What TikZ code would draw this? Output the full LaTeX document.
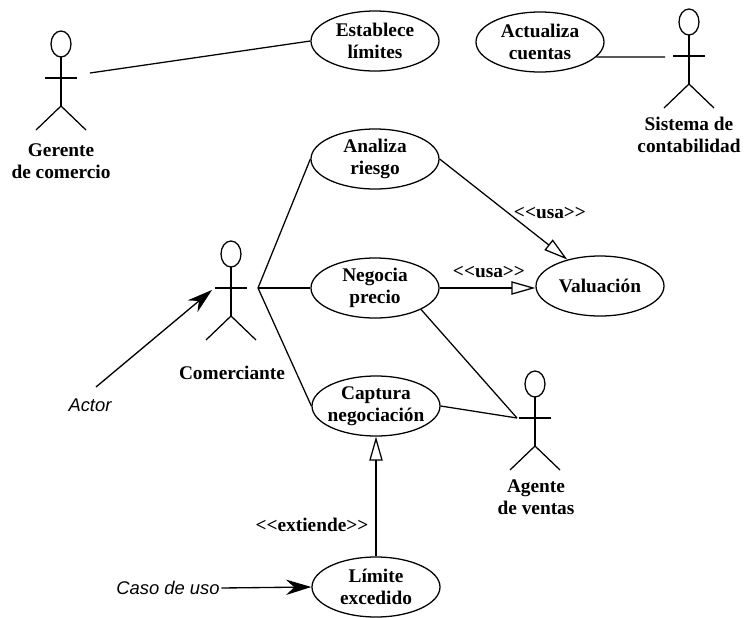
\documentclass[tikz,border=0pt]{standalone}
\usepackage{fontspec}
\setmainfont{Liberation Serif}
\newfontfamily\labelfont{Liberation Sans}
\usetikzlibrary{shapes.geometric,arrows.meta}
\tikzset{
  usecase/.style={draw,ellipse,inner sep=-3pt,minimum width=96pt,minimum height=45pt,align=center,font=\fontsize{14.5}{16.5}\selectfont\bfseries},
  rolename/.style={inner sep=0.75pt,align=center,font=\fontsize{14.5}{16.5}\selectfont\bfseries},
  stereotype/.style={inner sep=0.75pt,font=\fontsize{14.5}{16}\selectfont\bfseries},
  callout/.style={inner sep=0.75pt,font=\fontsize{13.8}{16}\selectfont\labelfont\itshape},
  usesarrow/.style={-{Triangle[open,length=18pt,width=10pt]}},
  calloutarrow/.style={-{Stealth[length=19pt,width=11.5pt]},line width=1pt},
  pics/actor/.style={code={
    \begin{scope}[yscale=-1]
    \draw (0,0) ellipse [x radius=10,y radius=13];
    \draw (0,13) -- (0,62);
    \draw (-16,34) -- (16,34);
    \draw (-25,86) -- (0,62) -- (25,86);
    \end{scope}
  }}
}
\begin{document}
\begin{tikzpicture}[x=0.75pt,y=0.75pt,yscale=-1,xscale=1,line width=0.95pt]
\useasboundingbox (0,0) rectangle (744,618);

%Actors
\pic at (61,44) {actor};
\pic at (689,22) {actor};
\pic at (231,254) {actor};
\pic at (535,384) {actor};

%Use cases
\node [usecase] (establece) at (375,41) {Establece\\límites};
\node [usecase] (actualiza) at (540,42) {Actualiza\\cuentas};
\node [usecase] (analiza) at (375,159) {Analiza\\riesgo};
\node [usecase] (negocia) at (375,288) {Negocia\\precio};
\node [usecase] (valuacion) at (600,286) {Valuación};
\node [usecase] (captura) at (376,406) {Captura\\negociación};
\node [usecase] (limite) at (376,587) {Límite\\excedido};

%Free ends next to the actors
\coordinate (gerenteend) at (90,73);
\coordinate (sistemaend) at (665,57);
\coordinate (comerciantehub) at (258,288);
\coordinate (agentehub) at (517,418);
\coordinate (actorstart) at (96,387);
\coordinate (actorend) at (212,290);

%Straight Lines
\draw (gerenteend) -- (establece.west);
\draw (actualiza.-15) -- (sistemaend);
\draw (comerciantehub) -- (analiza.west);
\draw (comerciantehub) -- (negocia.west);
\draw (comerciantehub) -- (captura.west);
\draw (negocia.-25) -- (agentehub);
\draw (captura.east) -- (agentehub);
\draw [usesarrow] (analiza.east) -- (valuacion.141);
\draw [usesarrow] (negocia.east) -- (negocia.east -| valuacion.west);
\draw [usesarrow] (limite.north) -- (captura.south);

% Text Node
\node [rolename] (gerente) at (61,161) {Gerente\\de comercio};
\node [rolename] (sistema) at (689,135) {Sistema de\\contabilidad};
\node [rolename] (comerciante) at (232,373) {Comerciante};
\node [rolename] (agente) at (536,497) {Agente\\de ventas};
\node [stereotype] (usaanaliza) at (550,213) {{<}{<}usa{>}{>}};
\node [stereotype] (usanegocia) at (489,272) {{<}{<}usa{>}{>}};
\node [stereotype] (extiende) at (312,525) {{<}{<}extiende{>}{>}};
\node [callout] (actor) at (90,405) {Actor};
\node [callout] (casodeuso) at (168,588) {Caso de uso};

%Callout arrows
\draw [calloutarrow] (actorstart) -- (actorend);
\draw [calloutarrow] (casodeuso.east) -- (limite.west);
\end{tikzpicture}
\end{document}
